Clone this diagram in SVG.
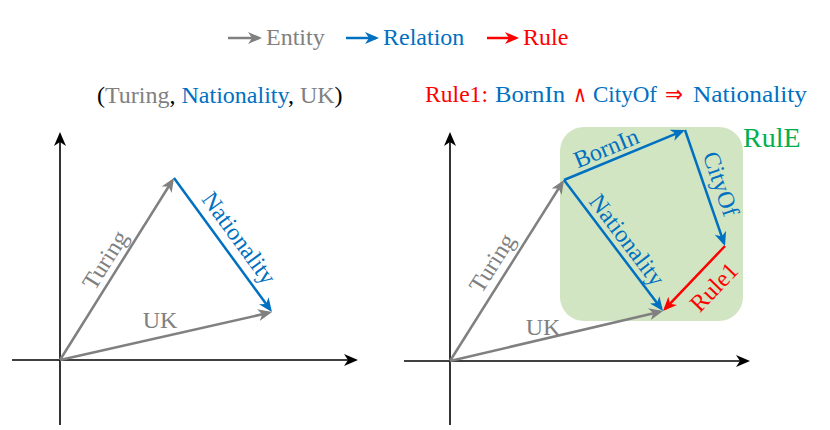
<svg xmlns="http://www.w3.org/2000/svg" width="830" height="430" viewBox="0 0 830 430">
<style>
.t{font-family:"Liberation Serif","Times New Roman",serif;font-size:24px}
.g{fill:#808080}.b{fill:#0070C0}.r{fill:#FF0000}
.ls{stroke-width:2.5;fill:none}
.sg{stroke:#808080}.sb{stroke:#0070C0}.sr{stroke:#FF0000}.sk{stroke:#000;stroke-width:1.6;fill:none}
.ttl{font-family:"Liberation Serif","Cambria",serif;font-size:23px}
</style>
<defs>
<marker id="ag" viewBox="0 0 14 12" refX="11" refY="6" markerWidth="14" markerHeight="12" markerUnits="userSpaceOnUse" orient="auto"><path d="M0,0 L14,6 L0,12 L4,6 z" fill="#808080"/></marker>
<marker id="ab" viewBox="0 0 14 12" refX="11" refY="6" markerWidth="14" markerHeight="12" markerUnits="userSpaceOnUse" orient="auto"><path d="M0,0 L14,6 L0,12 L4,6 z" fill="#0070C0"/></marker>
<marker id="ar" viewBox="0 0 14 12" refX="11" refY="6" markerWidth="14" markerHeight="12" markerUnits="userSpaceOnUse" orient="auto"><path d="M0,0 L14,6 L0,12 L4,6 z" fill="#FF0000"/></marker>
<marker id="ak" viewBox="0 0 14 12" refX="11" refY="6" markerWidth="14" markerHeight="12" markerUnits="userSpaceOnUse" orient="auto"><path d="M0,0 L14,6 L0,12 L4,6 z" fill="#000"/></marker>
</defs>
<rect width="830" height="430" fill="#fff"/>

<g id="legend">
<line class="ls sg" x1="228" y1="38" x2="259" y2="38" marker-end="url(#ag)"/>
<text class="t g" x="266" y="45">Entity</text>
<line class="ls sb" x1="346" y1="38" x2="376" y2="38" marker-end="url(#ab)"/>
<text class="t b" x="383" y="45">Relation</text>
<line class="ls sr" x1="487" y1="38" x2="516" y2="38" marker-end="url(#ar)"/>
<text class="t r" x="523" y="45">Rule</text>
</g>

<g id="left-title">
<text class="t" x="97" y="103"><tspan fill="#000">(</tspan><tspan class="g">Turing</tspan><tspan fill="#000">, </tspan><tspan class="b">Nationality</tspan><tspan fill="#000">, </tspan><tspan class="g">UK</tspan><tspan fill="#000">)</tspan></text>
</g>

<g id="right-title">
<text class="ttl r" x="425" y="102" textLength="63" lengthAdjust="spacingAndGlyphs">Rule1:</text>
<text class="ttl b" x="495" y="102" textLength="70" lengthAdjust="spacingAndGlyphs">BornIn</text>
<text class="ttl r" x="573" y="102" style="font-family:'DejaVu Sans',sans-serif" textLength="14" lengthAdjust="spacingAndGlyphs">∧</text>
<text class="ttl b" x="593" y="102" textLength="64" lengthAdjust="spacingAndGlyphs">CityOf</text>
<text class="ttl r" x="665" y="102" style="font-family:'DejaVu Sans',sans-serif" textLength="18" lengthAdjust="spacingAndGlyphs">⇒</text>
<text class="ttl b" x="693" y="102" textLength="114" lengthAdjust="spacingAndGlyphs">Nationality</text>
</g>

<g id="rule-box">
<rect x="560" y="127" width="183" height="194" rx="24" ry="24" fill="#D2E5C3"/>
<text class="t" x="743" y="147" style="font-size:28px" fill="#00B050">RulE</text>
</g>

<g id="connectors">
<!-- left axes -->
<line class="sk" x1="60" y1="425" x2="60" y2="135" marker-end="url(#ak)"/>
<line class="sk" x1="12" y1="360" x2="355" y2="360" marker-end="url(#ak)"/>
<!-- left vectors -->
<line class="ls sg" x1="60" y1="360" x2="172.4" y2="180.5" marker-end="url(#ag)"/>
<line class="ls sb" x1="174" y1="178" x2="270.2" y2="309.6" marker-end="url(#ab)"/>
<line class="ls sg" x1="60" y1="360" x2="269.1" y2="312.7" marker-end="url(#ag)"/>
<!-- right axes -->
<line class="sk" x1="450" y1="425" x2="450" y2="135" marker-end="url(#ak)"/>
<line class="sk" x1="404" y1="361" x2="747" y2="361" marker-end="url(#ak)"/>
<!-- right vectors -->
<line class="ls sg" x1="450" y1="361" x2="562.4" y2="182.5" marker-end="url(#ag)"/>
<line class="ls sb" x1="564" y1="180" x2="682.2" y2="131.1" marker-end="url(#ab)"/>
<line class="ls sb" x1="685" y1="130" x2="724" y2="243.2" marker-end="url(#ab)"/>
<line class="ls sr" x1="725" y1="246" x2="665.1" y2="308.8" marker-end="url(#ar)"/>
<line class="ls sb" x1="564" y1="180" x2="661.2" y2="308.6" marker-end="url(#ab)"/>
<line class="ls sg" x1="450" y1="361" x2="660.1" y2="311.7" marker-end="url(#ag)"/>
</g>

<g id="left-labels">
<text class="t g" text-anchor="middle" transform="translate(105,260) rotate(-57.9)" y="8">Turing</text>
<text class="t b" text-anchor="middle" transform="translate(239,238) rotate(53.8)" y="8">Nationality</text>
<text class="t g" text-anchor="middle" x="160" y="328">UK</text>
</g>

<g id="right-labels">
<text class="t g" text-anchor="middle" transform="translate(492,263) rotate(-57.8)" y="8">Turing</text>
<text class="t b" text-anchor="middle" transform="translate(606,148) rotate(-22.5)" y="8">BornIn</text>
<text class="t b" text-anchor="middle" transform="translate(721,184) rotate(71)" y="8">CityOf</text>
<text class="t b" text-anchor="middle" transform="translate(627,240) rotate(52.9)" y="8">Nationality</text>
<text class="t r" text-anchor="middle" transform="translate(714,287) rotate(-46)" y="8">Rule1</text>
<text class="t g" text-anchor="middle" x="543" y="335">UK</text>
</g>
</svg>
